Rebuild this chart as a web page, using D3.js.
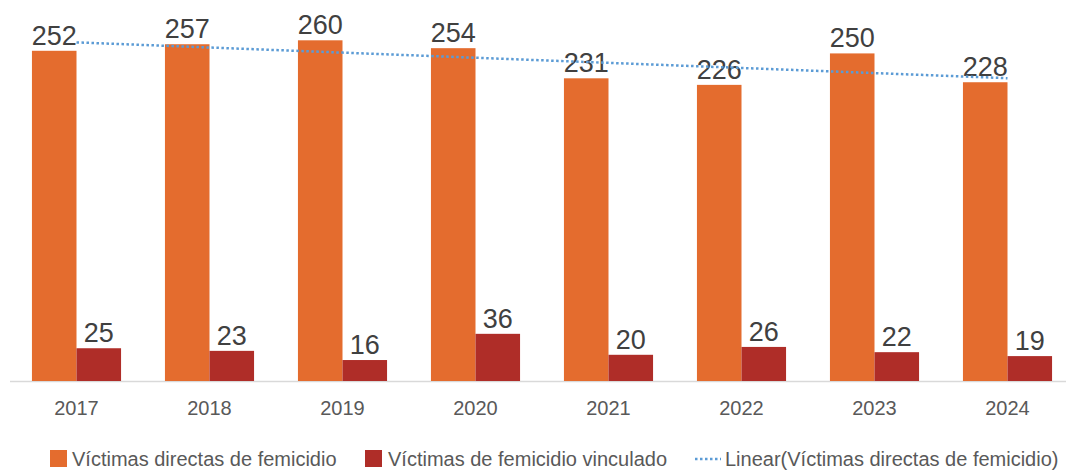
<!DOCTYPE html>
<html>
<head>
<meta charset="utf-8">
<script src="https://cdn.jsdelivr.net/npm/d3@7"></script>
<style>
  body { margin: 0; background: #fff; }
  svg text { font-family: "Liberation Sans", Arial, sans-serif; }
</style>
</head>
<body>
<svg id="chart" width="1069" height="473"></svg>
<script>
const years = ["2017", "2018", "2019", "2020", "2021", "2022", "2023", "2024"];
const directas = [252, 257, 260, 254, 231, 226, 250, 228];
const vinculado = [25, 23, 16, 36, 20, 26, 22, 19];
const seriesNames = ["Víctimas directas de femicidio", "Víctimas de femicidio vinculado"];
const trendName = "Linear(Víctimas directas de femicidio)";

const colors = { directas: "#E46C2E", vinculado: "#AF2D28", trend: "#5B9BD5", label: "#404040", axis: "#595959" };

const svg = d3.select("#chart");
const baseY = 381;

const x = d3.scaleBand().domain(years).range([10, 1074]).paddingInner(0.33).paddingOuter(0.165);
const xs = d3.scaleBand().domain(["directas", "vinculado"]).range([0, x.bandwidth()]);
const y = d3.scaleLinear().domain([0, 290]).range([baseY, 1]);

// axis line
svg.append("line")
    .attr("x1", 10).attr("x2", 1066)
    .attr("y1", baseY + 0.5).attr("y2", baseY + 0.5)
    .attr("stroke", "#d9d9d9").attr("stroke-width", 1.5);

const rows = years.map((yr, i) => ({ yr: yr, directas: directas[i], vinculado: vinculado[i] }));

const g = svg.selectAll("g.year").data(rows).enter().append("g")
    .attr("class", "year")
    .attr("transform", d => "translate(" + x(d.yr) + ",0)");

["directas", "vinculado"].forEach(k => {
    g.append("rect")
        .attr("x", xs(k))
        .attr("width", xs.bandwidth())
        .attr("y", d => y(d[k]))
        .attr("height", d => baseY - y(d[k]))
        .attr("fill", colors[k]);
    g.append("text")
        .attr("x", xs(k) + xs.bandwidth() / 2)
        .attr("y", d => y(d[k]) - 6)
        .attr("text-anchor", "middle")
        .attr("font-size", 27)
        .attr("fill", colors.label)
        .text(d => d[k]);
});

// linear trend of direct victims
const n = directas.length;
const mx = (n - 1) / 2, my = d3.mean(directas);
const slope = d3.sum(directas, (v, i) => (i - mx) * (v - my)) / d3.sum(directas, (v, i) => (i - mx) * (i - mx));
const icpt = my - slope * mx;
const trendLine = d3.line()
    .x((d, i) => x(years[i]) + x.bandwidth() / 2)
    .y((d, i) => y(icpt + slope * i));
svg.append("path")
    .datum(directas)
    .attr("d", trendLine)
    .attr("fill", "none")
    .attr("stroke", colors.trend)
    .attr("stroke-width", 2.5)
    .attr("stroke-dasharray", "2.5,2.5");

// x axis labels
const xAxis = d3.axisBottom(x).tickSize(0).tickPadding(0);
const ax = svg.append("g").attr("transform", "translate(0," + (baseY + 34) + ")").call(xAxis);
ax.select(".domain").remove();
ax.selectAll("text")
    .attr("dy", 0)
    .attr("font-size", 20)
    .attr("fill", colors.axis)
    .attr("font-family", "Liberation Sans, Arial, sans-serif");

// legend
const leg = svg.append("g").attr("font-size", 20).attr("fill", colors.axis);
const ly = 459;
leg.append("rect").attr("x", 50).attr("y", ly - 9).attr("width", 17).attr("height", 17).attr("fill", colors.directas);
leg.append("text").attr("x", 72).attr("y", ly + 7).attr("fill", colors.axis).text(seriesNames[0]);
leg.append("rect").attr("x", 365).attr("y", ly - 9).attr("width", 17).attr("height", 17).attr("fill", colors.vinculado);
leg.append("text").attr("x", 388).attr("y", ly + 7).attr("fill", colors.axis).text(seriesNames[1]);
leg.append("line").attr("x1", 695).attr("x2", 721).attr("y1", ly).attr("y2", ly)
    .attr("stroke", colors.trend).attr("stroke-width", 2.5).attr("stroke-dasharray", "2.5,2.5");
leg.append("text").attr("x", 725).attr("y", ly + 7).attr("fill", colors.axis).text(trendName);
</script>
</body>
</html>
